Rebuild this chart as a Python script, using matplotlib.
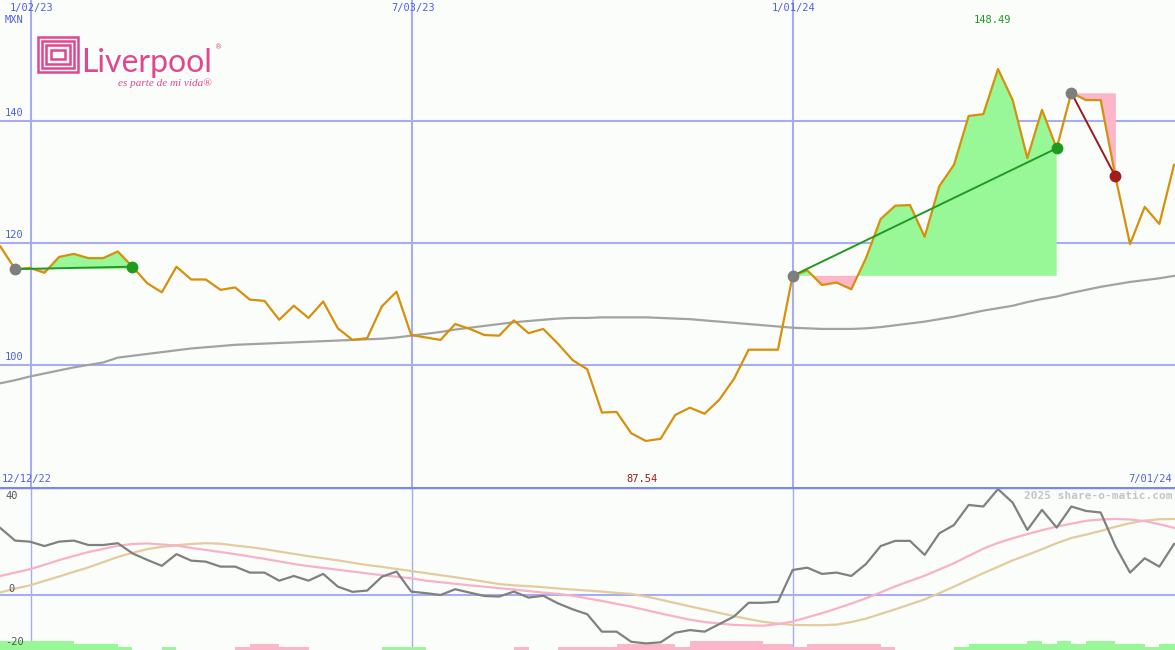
import matplotlib
matplotlib.use('Agg')
import matplotlib.pyplot as plt
import matplotlib.transforms as mtransforms
from matplotlib.patches import Rectangle
import numpy as np

# weekly closes, Liverpool (MXN)
price = [119.4, 115.7, 115.9, 115.1, 117.7, 118.2, 117.5, 117.5, 118.6, 116.1,
         113.4, 111.9, 116.1, 114.0, 114.0, 112.3, 112.7, 110.7, 110.5, 107.4,
         109.7, 107.7, 110.4, 106.0, 104.1, 104.4, 109.6, 112.0, 104.9, 104.5,
         104.1, 106.7, 105.9, 104.9, 104.8, 107.3, 105.2, 105.9, 103.5, 100.8,
         99.3, 92.2, 92.3, 88.8, 87.54, 87.9, 91.8, 93.0, 92.0, 94.3,
         97.7, 102.5, 102.5, 102.5, 114.6, 115.5, 113.1, 113.5, 112.4, 117.5,
         123.9, 126.1, 126.2, 121.0, 129.3, 132.8, 140.8, 141.1, 148.49, 143.4,
         133.9, 141.8, 135.5, 144.6, 143.4, 143.4, 130.9, 119.8, 125.9, 123.1,
         132.8]

price_ma = [97.0, 97.5, 98.1, 98.6, 99.1, 99.6, 100.0, 100.4, 101.2, 101.5,
            101.8, 102.1, 102.4, 102.7, 102.9, 103.1, 103.3, 103.4, 103.5, 103.6,
            103.7, 103.8, 103.9, 104.0, 104.1, 104.2, 104.3, 104.5, 104.8, 105.1,
            105.4, 105.8, 106.1, 106.4, 106.7, 107.0, 107.2, 107.4, 107.6, 107.7,
            107.7, 107.8, 107.8, 107.8, 107.8, 107.7, 107.6, 107.5, 107.3, 107.1,
            106.9, 106.7, 106.5, 106.3, 106.1, 106.0, 105.9, 105.9, 105.9, 106.0,
            106.2, 106.5, 106.8, 107.1, 107.5, 107.9, 108.4, 108.9, 109.3, 109.7,
            110.3, 110.8, 111.2, 111.8, 112.3, 112.8, 113.2, 113.6, 113.9, 114.2,
            114.6]

momentum = [25.7, 20.9, 20.5, 18.8, 20.5, 20.9, 19.2, 19.2, 19.9, 16.0,
            13.5, 11.2, 15.7, 13.2, 12.8, 10.9, 10.9, 8.6, 8.6, 5.5,
            7.3, 5.5, 8.1, 3.2, 1.2, 1.7, 7.0, 9.0, 1.3, 0.7,
            0.0, 2.2, 0.9, -0.4, -0.6, 1.3, -1.0, -0.3, -3.2, -5.5,
            -7.4, -14.1, -14.1, -18.0, -18.6, -18.2, -14.5, -13.5, -14.1, -11.2,
            -8.3, -3.0, -3.0, -2.6, 9.6, 10.5, 8.1, 8.6, 7.3, 11.9,
            18.8, 20.8, 20.8, 15.4, 23.7, 26.9, 34.6, 34.0, 40.7, 35.5,
            25.0, 32.7, 25.9, 34.0, 32.3, 31.7, 18.8, 8.6, 14.1, 10.9,
            19.6]

mom_fast = [7.3, 8.6, 9.9, 11.6, 13.4, 15.0, 16.5, 17.7, 18.9, 19.6,
            19.8, 19.4, 19.0, 18.1, 17.3, 16.5, 15.7, 14.8, 13.9, 12.9,
            11.9, 11.1, 10.4, 9.7, 9.0, 8.3, 7.6, 7.0, 6.4, 5.5,
            4.9, 4.3, 3.7, 3.2, 2.6, 2.1, 1.5, 0.9, 0.4, -0.3,
            -1.3, -2.3, -3.4, -4.5, -5.8, -7.1, -8.3, -9.5, -10.4, -11.0,
            -11.5, -11.7, -11.8, -11.2, -10.2, -8.6, -7.0, -5.2, -3.3, -1.3,
            1.0, 3.3, 5.4, 7.4, 9.8, 12.2, 15.0, 17.8, 20.0, 21.8,
            23.4, 24.9, 26.3, 27.4, 28.5, 29.0, 29.2, 29.0, 28.4, 27.2,
            25.8]

mom_slow = [1.0, 2.4, 3.7, 5.4, 7.1, 8.9, 10.6, 12.6, 14.6, 16.2,
            17.6, 18.5, 19.1, 19.6, 19.9, 19.7, 19.0, 18.4, 17.6, 16.7,
            15.8, 14.9, 14.1, 13.3, 12.4, 11.5, 10.8, 10.0, 9.2, 8.4,
            7.6, 6.8, 6.0, 5.1, 4.2, 3.7, 3.4, 3.0, 2.5, 2.1,
            1.7, 1.3, 0.8, 0.4, -0.6, -1.8, -3.1, -4.4, -5.6, -6.9,
            -8.1, -9.3, -10.3, -11.0, -11.5, -11.6, -11.6, -11.4, -10.4, -9.1,
            -7.3, -5.5, -3.6, -1.7, 0.7, 3.2, 5.8, 8.4, 10.8, 13.3,
            15.4, 17.6, 19.9, 21.9, 23.2, 24.6, 26.2, 27.6, 28.6, 29.1,
            29.2]

signal = [3, 3, 3, 3, 3, 2, 2, 2, 1, 0,
          0, 1, 0, 0, 0, 0, -1, -2, -2, -1,
          -1, 0, 0, 0, 0, 0, 1, 1, 1, 0,
          0, 0, 0, 0, 0, -1, 0, 0, -1, -1,
          -1, -1, -2, -2, -2, -2, -1, -3, -3, -3,
          -3, -3, -2, -2, -1, -2, -2, -2, -2, -2,
          -1, 0, 0, 0, 0, 1, 2, 2, 2, 2,
          3, 2, 3, 2, 3, 3, 2, 2, 1, 2,
          2]

# trades: entry / exit week index
entries = [1, 54, 73]
exits = [9, 72, 76]

date_pos = [2, 28, 54]
date_labels = ['1/02/23', '7/03/23', '1/01/24']
price_ticks = [100, 120, 140]

W, H = 1175, 650
BG = '#fbfdfb'
GRID = '#a6aeef'
BLUE_TXT = '#4f5fe6'
PINK_LOGO = '#e2468c'
MONO = 'DejaVu Sans Mono'


def fpx(x, y):
    return x / W, 1 - y / H


def draw_logo(fig):
    for k in range(4):
        d = 4.2 * k
        x0, y0 = fpx(38 + d, 72 - d)
        x1, y1 = fpx(78 - d, 37 + d)
        fig.patches.append(Rectangle((x0, y0), x1 - x0, y1 - y0, fill=False,
                                     ec=PINK_LOGO, lw=1.8,
                                     transform=fig.transFigure, figure=fig))
    fig.text(*fpx(81, 72), 'Liverpool', color=PINK_LOGO, fontsize=23,
             family=['Lato', 'DejaVu Sans'], weight='normal',
             va='baseline', ha='left')
    fig.text(*fpx(215, 47), '®', color=PINK_LOGO, fontsize=5, ha='left',
             va='center')
    fig.text(*fpx(212, 83), 'es parte de mi vida®', color=PINK_LOGO,
             fontsize=8, family='Liberation Serif', style='italic',
             ha='right', va='center')


def main():
    x = np.arange(len(price))
    p = np.array(price)
    fig = plt.figure(figsize=(W / 100, H / 100), dpi=100, facecolor=BG)

    ax1 = fig.add_axes([0, 163 / H, 1, 487 / H])
    ax2 = fig.add_axes([0, 0, 1, 163 / H])
    for ax in (ax1, ax2):
        ax.set_facecolor(BG)
        ax.set_axis_off()
        ax.set_xlim(-0.03, W / 14.67 - 0.03)

    # ---- price panel ----
    ax1.set_ylim(80.0, 159.8)
    for t in price_ticks:
        ax1.axhline(t, color=GRID, lw=1.5, zorder=1)
    for d in date_pos:
        ax1.axvline(d + 0.05, color=GRID, lw=1.5, zorder=1)

    for e, q in zip(entries, exits):
        seg = x[e:q + 1]
        lvl = p[e]
        ax1.fill_between(seg, p[e:q + 1], lvl, where=p[e:q + 1] >= lvl,
                         interpolate=True, color='#98f898', lw=0, zorder=2)
        ax1.fill_between(seg, p[e:q + 1], lvl, where=p[e:q + 1] <= lvl,
                         interpolate=True, color='#fbb6c9', lw=0, zorder=2)

    ax1.plot(x, price_ma, color='#a2a2a2', lw=1.6, zorder=3)
    ax1.plot(x, p, color='#d6900a', lw=1.6, zorder=4)

    for e, q in zip(entries, exits):
        win = p[q] > p[e]
        col = '#229a22' if win else '#991a1a'
        ax1.plot([e, q], [p[e], p[q]], color=col, lw=1.4, zorder=5)
        ax1.plot(e, p[e], 'o', color='#7e7e7e', ms=8.5, mew=0, zorder=6)
        ax1.plot(q, p[q], 'o', color='#1f9a1f' if win else '#a21c1c', ms=8.5,
                 mew=0, zorder=6)

    bl1 = mtransforms.blended_transform_factory(ax1.transAxes, ax1.transData)
    for t in price_ticks:
        ax1.text(5 / W, t + 0.5, str(t), transform=bl1, color=BLUE_TXT,
                 fontsize=7.5, family=MONO, va='bottom', ha='left')
    bx1 = mtransforms.blended_transform_factory(ax1.transData, ax1.transAxes)
    for d, lab in zip(date_pos, date_labels):
        ax1.text(d + 0.1, 1 - 3 / 487, lab, transform=bx1, color=BLUE_TXT,
                 fontsize=7.5, family=MONO, va='top', ha='center')
    ax1.text(5 / W, 1 - 20 / 487, 'MXN', transform=ax1.transAxes,
             color=BLUE_TXT, fontsize=7.5, family=MONO, va='center')

    imax, imin = int(np.argmax(p)), int(np.argmin(p))
    ax1.text(imax - 0.4, 1 - 20 / 487, f'{p[imax]:.2f}', transform=bx1,
             color='#1e9a1e', fontsize=7.5, family=MONO, ha='center',
             va='center')
    ax1.text(imin - 0.3, 8 / 487, f'{p[imin]:.2f}', transform=bx1,
             color='#a01818', fontsize=7.5, family=MONO, ha='center',
             va='center')
    ax1.text(2 / W, 8 / 487, '12/12/22', transform=ax1.transAxes,
             color=BLUE_TXT, fontsize=7.5, family=MONO, va='center')
    ax1.text(1 - 3 / W, 8 / 487, '7/01/24', transform=ax1.transAxes,
             color=BLUE_TXT, fontsize=7.5, family=MONO, va='center', ha='right')

    # ---- momentum panel ----
    ax2.set_ylim(-21.15, 41.5)
    ax2.axhline(0, color=GRID, lw=1.5, zorder=1)
    ax2.axhline(41.5, color='#7a88ec', lw=2.5, zorder=8)
    for d in date_pos:
        ax2.axvline(d + 0.05, color=GRID, lw=1.0, zorder=1)

    sig = np.array(signal)
    cols = ['#98f898' if s > 0 else '#fbb6c9' for s in sig]
    ax2.bar(x, np.abs(sig) * 3 / 2.6, bottom=-21.15, width=1.0, align='edge',
            color=cols, lw=0, zorder=2)

    ax2.plot(x, mom_slow, color='#e3cb9d', lw=1.6, zorder=3)
    ax2.plot(x, mom_fast, color='#f8b2c8', lw=1.6, zorder=3)
    ax2.plot(x, momentum, color='#808080', lw=1.6, zorder=4)

    ax2.text(5 / W, 1 - 9 / 163, '40', transform=ax2.transAxes, color='#555555',
             fontsize=7.5, family=MONO, va='center')
    ax2.text(8 / W, 1 - 102 / 163, '0', transform=ax2.transAxes,
             color='#555555', fontsize=7.5, family=MONO, va='center')
    ax2.text(5 / W, 8 / 163, '-20', transform=ax2.transAxes, color='#555555',
             fontsize=7.5, family=MONO, va='center')
    ax2.text(1 - 3 / W, 1 - 9 / 163, '2025 share-o-matic.com',
             transform=ax2.transAxes, color='#c4c4c4', fontsize=8,
             family=MONO, weight='bold', ha='right', va='center')

    draw_logo(fig)
    fig.savefig('out.png', dpi=100, facecolor=BG)


if __name__ == "__main__":
    main()
